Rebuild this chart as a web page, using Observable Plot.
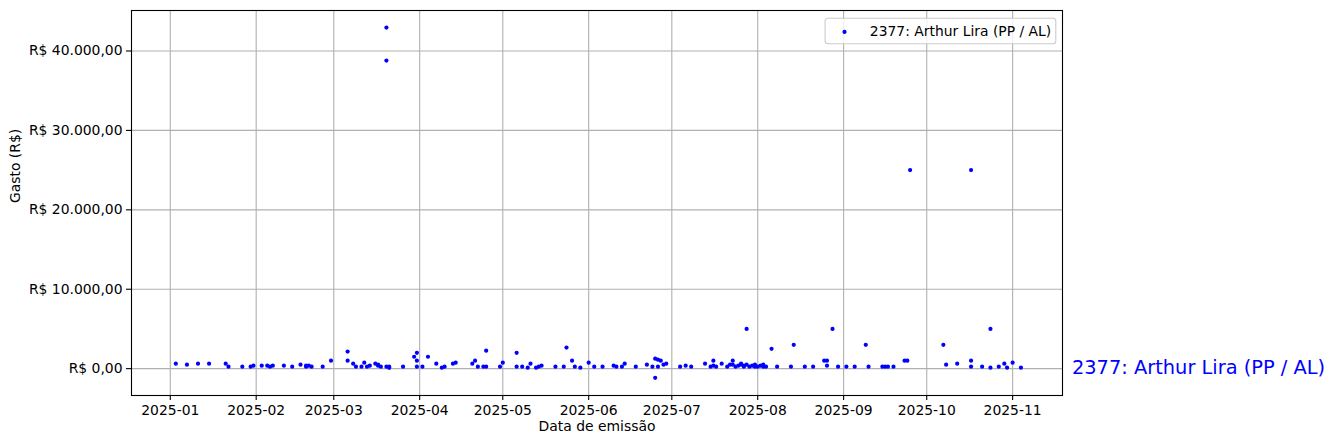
<!DOCTYPE html>
<html><head><meta charset="utf-8">
<script src="https://cdn.jsdelivr.net/npm/d3@7"></script>
<script src="https://cdn.jsdelivr.net/npm/@observablehq/plot@0.6"></script>
<style>
html,body{margin:0;padding:0;background:#fff;}
#chart{width:1335px;height:448px;}
</style></head><body><div id="chart"></div>
<script>
const seriesName = "2377: Arthur Lira (PP / AL)";
const xLabel = "Data de emissão";
const yLabel = "Gasto (R$)";

const dates = [
  "2025-01-03","2025-01-07","2025-01-11","2025-01-15","2025-01-21","2025-01-22","2025-01-27","2025-01-30","2025-01-31",
  "2025-02-03","2025-02-05","2025-02-06","2025-02-07","2025-02-11","2025-02-14","2025-02-17","2025-02-19","2025-02-19","2025-02-20","2025-02-21","2025-02-25","2025-02-28",
  "2025-03-06","2025-03-06","2025-03-08","2025-03-09","2025-03-11","2025-03-12","2025-03-13","2025-03-14","2025-03-16","2025-03-17","2025-03-17","2025-03-18",
  "2025-03-20","2025-03-20","2025-03-20","2025-03-21","2025-03-21","2025-03-26","2025-03-30","2025-03-31","2025-03-31","2025-03-31",
  "2025-04-02","2025-04-04","2025-04-07","2025-04-09","2025-04-10","2025-04-13","2025-04-14","2025-04-20","2025-04-21","2025-04-22","2025-04-24","2025-04-25","2025-04-25","2025-04-30",
  "2025-05-01","2025-05-06","2025-05-06","2025-05-08","2025-05-10","2025-05-11","2025-05-13","2025-05-14","2025-05-15","2025-05-20","2025-05-23","2025-05-24","2025-05-26","2025-05-27","2025-05-29",
  "2025-06-01","2025-06-03","2025-06-06","2025-06-10","2025-06-11","2025-06-13","2025-06-14","2025-06-18","2025-06-22","2025-06-24","2025-06-25","2025-06-25","2025-06-26","2025-06-26","2025-06-27","2025-06-28","2025-06-29",
  "2025-07-04","2025-07-06","2025-07-08","2025-07-13","2025-07-15","2025-07-16","2025-07-16","2025-07-17","2025-07-19","2025-07-21","2025-07-22","2025-07-23","2025-07-23","2025-07-24","2025-07-25","2025-07-26","2025-07-26","2025-07-27","2025-07-27","2025-07-28","2025-07-28","2025-07-29","2025-07-30","2025-07-31","2025-07-31",
  "2025-08-01","2025-08-02","2025-08-03","2025-08-03","2025-08-04","2025-08-06","2025-08-08","2025-08-13","2025-08-14","2025-08-18","2025-08-21","2025-08-25","2025-08-26","2025-08-26","2025-08-28","2025-08-30",
  "2025-09-02","2025-09-05","2025-09-09","2025-09-10","2025-09-15","2025-09-16","2025-09-17","2025-09-19","2025-09-23","2025-09-24","2025-09-25",
  "2025-10-07","2025-10-08","2025-10-12","2025-10-17","2025-10-17","2025-10-17","2025-10-21","2025-10-24","2025-10-24","2025-10-27","2025-10-29","2025-10-30",
  "2025-11-01","2025-11-04"
];
const values = [
  630,500,630,630,630,250,250,250,380,
  380,380,250,380,380,250,500,380,250,380,250,250,1000,
  2150,1000,630,250,250,750,250,380,630,500,380,250,
  250,42950,38800,250,100,250,1500,1000,250,2000,
  250,1500,630,125,250,630,750,630,1000,250,250,2270,250,250,
  750,250,2000,250,125,630,125,250,380,250,250,2650,1000,250,125,
  750,250,250,380,250,250,630,250,500,250,1260,-1150,250,1130,1000,500,630,
  250,380,250,630,250,1000,380,250,630,250,500,1000,500,250,380,500,630,380,250,5000,500,250,380,250,500,
  250,380,500,250,250,2500,250,250,3000,250,250,1000,1000,380,5000,250,
  250,250,3000,250,250,250,250,250,1000,1000,25000,
  3000,500,630,25000,1000,250,250,5000,125,250,630,125,
  750,125
];

const xTickDates = ["2025-01-01","2025-02-01","2025-03-01","2025-04-01","2025-05-01","2025-06-01","2025-07-01","2025-08-01","2025-09-01","2025-10-01","2025-11-01"];
const yTicks = [0, 10000, 20000, 30000, 40000];
const xDomain = ["2024-12-18", "2025-11-19"];
const yDomain = [-3380, 45100];

const data = dates.map((d, i) => ({date: new Date(d), value: values[i]}));
const lastRow = data[data.length - 1];
const xTicks = xTickDates.map(d => new Date(d));

const brl = d3.formatLocale({decimal: ",", thousands: ".", grouping: [3], currency: ["R$ ", ""]});
const num = brl.format(",.2f");
const fmtY = v => "R$ " + num(v);

const font = "'DejaVu Sans', sans-serif";
const chart = Plot.plot({
  width: 1335, height: 448,
  marginLeft: 131, marginRight: 273, marginTop: 10, marginBottom: 53,
  style: {fontFamily: font, fontSize: "13.9px", color: "black", background: "white", overflow: "visible"},
  x: {type: "utc", domain: xDomain.map(d => new Date(d))},
  y: {type: "linear", domain: yDomain},
  marks: [
    Plot.gridX({ticks: xTicks, stroke: "#b0b0b0", strokeOpacity: 1, strokeWidth: 1.1}),
    Plot.gridY({ticks: yTicks, stroke: "#b0b0b0", strokeOpacity: 1, strokeWidth: 1.1}),
    Plot.dot(data, {x: "date", y: "value", r: 2.1, fill: "blue", stroke: "none"}),
    Plot.frame({stroke: "black", strokeWidth: 1.1}),
    Plot.axisX({ticks: xTicks, tickFormat: d3.utcFormat("%Y-%m"), tickSize: 5, tickPadding: 4.5, label: null, strokeWidth: 1.1, fontSize: 13.9}),
    Plot.axisY({ticks: yTicks, tickFormat: fmtY, tickSize: 5, tickPadding: 4, label: null, strokeWidth: 1.1, fontSize: 13.9}),
    Plot.text([xLabel], {frameAnchor: "bottom", dy: 35, fontSize: 13.9, fill: "black"}),
    Plot.text([yLabel], {frameAnchor: "left", dx: -116, rotate: -90, fontSize: 13.9, fill: "black"}),
    Plot.text([lastRow], {x: "date", y: "value", text: () => seriesName, dx: 51, textAnchor: "start", lineAnchor: "middle", fill: "blue", fontSize: 19.4}),
    Plot.frame({insetLeft: 693.6, insetRight: 6.7, insetTop: 7.7, insetBottom: 351.7, rx: 3, ry: 3, fill: "white", fillOpacity: 0.8, stroke: "#cccccc", strokeWidth: 1.1}),
    Plot.dot([seriesName], {frameAnchor: "top-right", dx: -218, dy: 21.4, r: 2.1, fill: "blue", stroke: "none"}),
    Plot.text([seriesName], {frameAnchor: "top-right", dx: -192.7, dy: 21.4, textAnchor: "start", lineAnchor: "middle", fontSize: 13.9, fill: "black"})
  ]
});
document.getElementById("chart").appendChild(chart);
</script>
</body></html>
